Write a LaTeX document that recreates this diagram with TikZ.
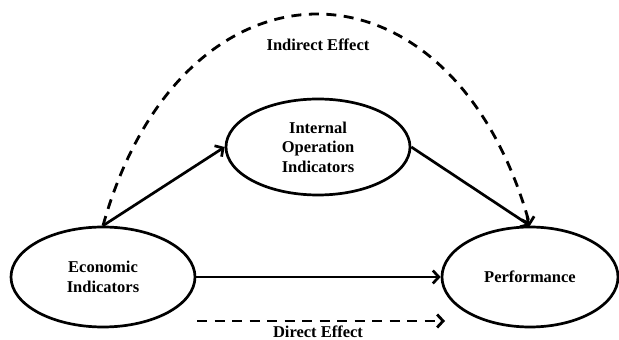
\documentclass[tikz,border=0pt]{standalone}
\usepackage{fontspec}
\setmainfont{Liberation Serif}
\usetikzlibrary{arrows.meta,shapes.geometric}

\begin{document}
\begin{tikzpicture}[
    x=1pt, y=1pt,            % 按像素坐标布局
    >={Straight Barb[length=6pt,width=13pt]},
    every node/.style={font=\fontsize{16.5}{19.5}\selectfont\bfseries, align=center},
    var/.style={draw, ellipse, line width=2.7pt, inner sep=0pt},
    link/.style={->, line width=2.7pt},
    effect/.style={->, line width=2.8pt, dash pattern=on 10pt off 7.5pt}
]
    \useasboundingbox (0,0) rectangle (619,340);

    % --- 1. 定义节点位置 (Nodes) ---
    \node[var, minimum width=184pt, minimum height=100pt] (eco) at (103, 63) {Economic\\Indicators};
    \node[var, minimum width=184pt, minimum height=96pt] (int) at (318, 193) {Internal\\Operation\\Indicators};
    \node[var, minimum width=176pt, minimum height=100pt] (perf) at (530, 63) {Performance};

    % --- 2. 绘制实线路径 (Solid Edges) ---
    \draw[link] (eco.north) -- (int.west);
    \draw[link] (int.east) -- (perf.north);
    \draw[link] (eco.east) -- (perf.west);

    % --- 3. 绘制虚线效应 (Dashed Effects) ---

    % Indirect: 上方大弧线
    \draw[effect] (eco.north) .. controls (182, 396) and (451, 396) .. (perf.north);
    \node[anchor=base] (ind) at (318, 289) {Indirect Effect};

    % Direct: 下方水平虚线
    \coordinate (dA) at (197, 19);
    \coordinate (dB) at (445, 19);
    \draw[effect] (dA) -- (dB);
    \node[anchor=base] (dir) at (318, 2.5) {Direct Effect};

\end{tikzpicture}
\end{document}
